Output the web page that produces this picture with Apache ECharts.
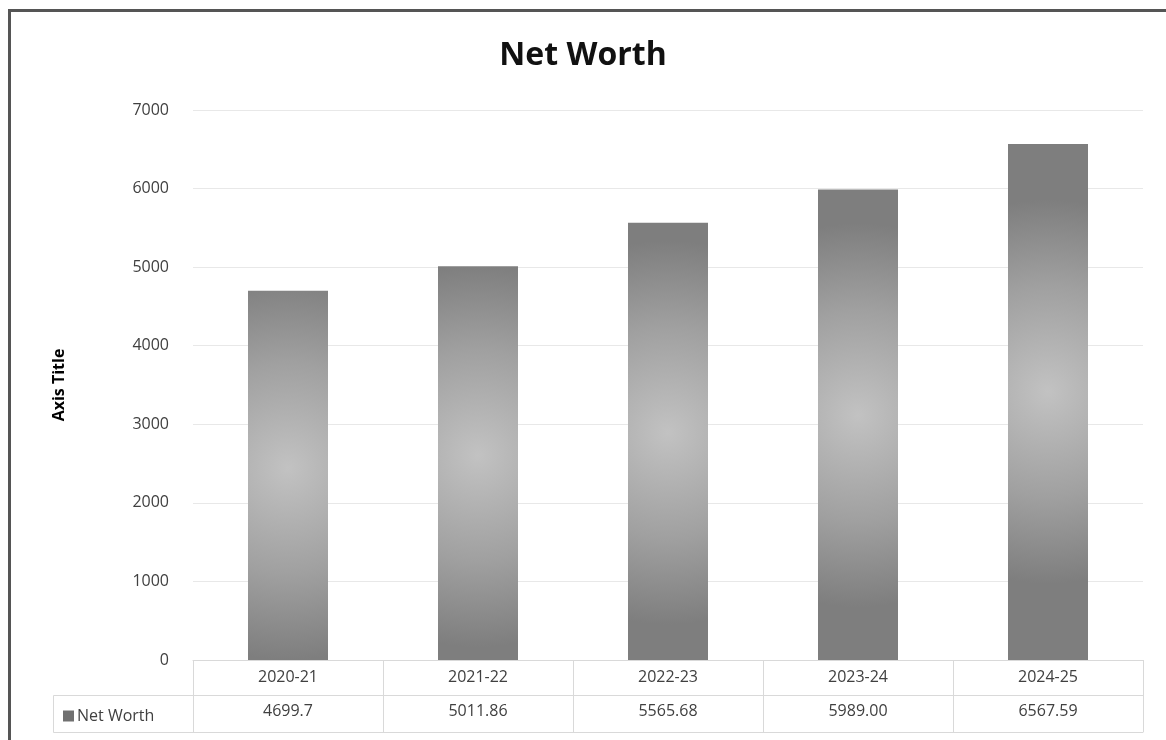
<!DOCTYPE html>
<html>
<head>
<meta charset="utf-8">
<script src="https://cdn.jsdelivr.net/npm/echarts@6/dist/echarts.min.js"></script>
<style>html,body{margin:0;padding:0;background:#fff}#c{width:1166px;height:740px}</style>
</head>
<body>
<div id="c"></div>
<script>
const categories = ['2020-21', '2021-22', '2022-23', '2023-24', '2024-25'];
const netWorth = [4699.7, 5011.86, 5565.68, 5989.00, 6567.59];
const tableLabels = ['4699.7', '5011.86', '5565.68', '5989.00', '6567.59'];
const seriesName = 'Net Worth';

const FONT = '"Open Sans", Lato, sans-serif';
const chart = echarts.init(document.getElementById('c'), null, {renderer: 'canvas'});
const barFill = {
  type: 'radial', x: 0.5, y: 0.48, r: 2.4,
  colorStops: [
    {offset: 0, color: '#c2c2c2'},
    {offset: 0.55, color: '#a0a0a0'},
    {offset: 1, color: '#7e7e7e'}
  ]
};
chart.setOption({
  backgroundColor: '#fff',
  animation: false,
  title: {
    text: 'Net Worth', left: 'center', top: 35,
    textStyle: {fontFamily: FONT, fontSize: 32, fontWeight: 'bold', color: '#111'}
  },
  legend: {
    left: 58, top: 703, icon: 'rect', itemWidth: 11, itemHeight: 11, itemGap: 4,
    itemStyle: {color: '#707070'},
    textStyle: {fontFamily: FONT, fontSize: 16, color: '#404040', padding: [0, 0, 0, -2]},
    data: [seriesName]
  },
  grid: {left: 193, right: 23, top: 110, bottom: 80},
  xAxis: [
    {
      type: 'category', data: categories, position: 'bottom',
      axisLine: {show: true, lineStyle: {color: '#d9d9d9', width: 1}},
      axisTick: {show: true, length: 72, lineStyle: {color: '#d9d9d9'}},
      axisLabel: {margin: 9, fontFamily: FONT, fontSize: 16, color: '#404040'}
    },
    {
      type: 'category', data: tableLabels, position: 'bottom', offset: 35,
      axisLine: {show: true, lineStyle: {color: '#d9d9d9', width: 1}},
      axisTick: {show: false},
      axisLabel: {margin: 8, fontFamily: FONT, fontSize: 16, color: '#404040'}
    },
    {
      type: 'category', data: categories, position: 'bottom', offset: 72,
      axisLine: {show: true, lineStyle: {color: '#d9d9d9', width: 1}},
      axisTick: {show: false},
      axisLabel: {show: false}
    }
  ],
  yAxis: {
    type: 'value', min: 0, max: 7000, interval: 1000,
    name: 'Axis Title', nameLocation: 'middle', nameGap: 126, nameRotate: 90,
    nameTextStyle: {fontFamily: FONT, fontSize: 16, fontWeight: 'bold', color: '#000'},
    axisLine: {show: false}, axisTick: {show: false},
    axisLabel: {margin: 24, fontFamily: FONT, fontSize: 16, color: '#404040', formatter: v => String(v)},
    splitLine: {lineStyle: {color: '#e8e8e8', width: 1}}
  },
  series: [{
    name: seriesName, type: 'bar', data: netWorth, xAxisIndex: 0,
    barWidth: 80,
    itemStyle: {color: barFill}
  }],
  graphic: [
    {type: 'polyline', silent: true, shape: {points: [[193, 695.5], [53.5, 695.5], [53.5, 732.5], [193, 732.5]]},
     style: {stroke: '#d9d9d9', lineWidth: 1, fill: null}},
    {type: 'polyline', silent: true, shape: {points: [[9.5, 745], [9.5, 10.5], [1170, 10.5]]},
     style: {stroke: '#555', lineWidth: 3, fill: null}}
  ]
});
</script>
</body>
</html>
